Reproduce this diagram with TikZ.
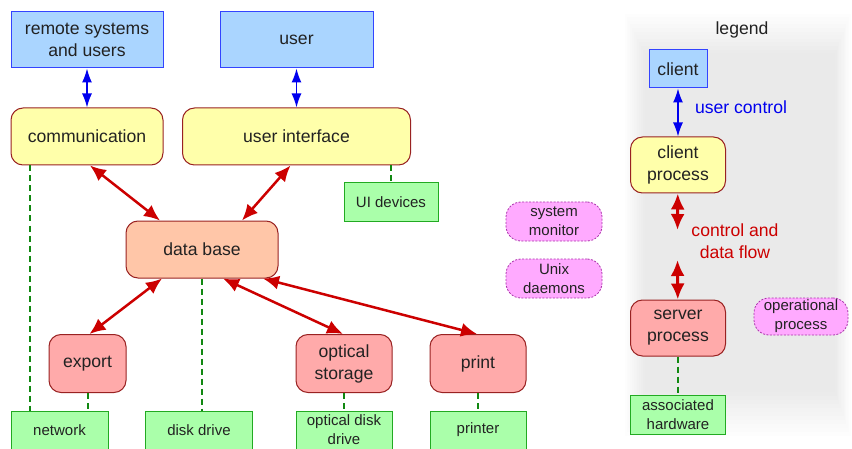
\documentclass[tikz,border=0pt]{standalone}
\usepackage{fontspec}
\setmainfont{Liberation Sans}
\usetikzlibrary{positioning,shapes,arrows.meta}
\definecolor{clientfill}{HTML}{AAD5FF}
\definecolor{clientline}{HTML}{3344FF}
\definecolor{procline}{HTML}{992222}
\definecolor{uifill}{HTML}{FFFFAA}
\definecolor{dbfill}{HTML}{FFC6A8}
\definecolor{serverfill}{HTML}{FFAAAA}
\definecolor{hwfill}{HTML}{AAFFAA}
\definecolor{hwline}{HTML}{22AA22}
\definecolor{daemonfill}{HTML}{FFAAFF}
\definecolor{daemonline}{HTML}{AA33AA}
\definecolor{ctrlblue}{HTML}{0000EE}
\definecolor{flowred}{HTML}{CC0000}
\definecolor{linkgreen}{HTML}{118811}
\definecolor{textgray}{HTML}{222222}

\begin{document}
\begin{tikzpicture}[
  x=1pt,y=1pt,
  font=\fontsize{17.6}{22}\selectfont,
  text=textgray,
  clientbox/.style={draw=clientline,fill=clientfill,line width=1pt,align=center,inner sep=0pt},
  procbox/.style={draw=procline,line width=1pt,rounded corners=12pt,align=center,inner sep=0pt},
  hwbox/.style={draw=hwline,fill=hwfill,line width=1pt,align=center,inner sep=0pt,
    font=\fontsize{15}{19}\selectfont},
  daemonbox/.style={draw=daemonline,fill=daemonfill,line width=0.8pt,dash pattern=on 2pt off 1.5pt,
    rounded corners=15pt,align=center,inner sep=0pt,font=\fontsize{15}{19}\selectfont},
  userlink/.style={draw=ctrlblue,line width=1.4pt,{Latex[length=14pt,width=10pt]}-{Latex[length=14pt,width=10pt]}},
  datalink/.style={draw=flowred,line width=2.5pt,{Latex[length=16pt,width=14pt]}-{Latex[length=16pt,width=14pt]}},
  bigdatalink/.style={draw=flowred,line width=3pt,{Latex[length=16pt,width=14pt]}-{Latex[length=16pt,width=14pt]}},
  hwlink/.style={draw=linkgreen,line width=2pt,dash pattern=on 6pt off 4pt}
]
\useasboundingbox (0,0) rectangle (852,448);
% legend background
\foreach \k [evaluate=\k as \shade using 0.7*\k] in {1,...,12}
  \fill[black!\shade] (623+1.8*\k,8+4*\k) rectangle (852-1.4*\k,438-3.6*\k);

% clients
\node[clientbox,minimum width=152pt,minimum height=56pt] (R) at (87,408) {remote systems\\and users};
\node[clientbox,minimum width=153pt,minimum height=56pt] (U) at (296.5,408) {user};

% client processes
\node[procbox,fill=uifill,minimum width=152pt,minimum height=57pt,below=39pt of R] (comm) {communication};
\node[procbox,fill=uifill,minimum width=228pt,minimum height=57pt,below=39pt of U] (ui) {user interface};
\node[hwbox,minimum width=94pt,minimum height=38pt] (uidev) at (391,246) {UI devices};

% server processes
\node[procbox,fill=dbfill,minimum width=152pt,minimum height=57pt] (db) at (202,198.5) {data base};
\node[procbox,fill=serverfill,minimum width=77pt,minimum height=58pt] (export) at (87.5,84.5) {export};
\node[procbox,fill=serverfill,minimum width=96pt,minimum height=58pt] (optical) at (344,84.5) {optical\\storage};
\node[procbox,fill=serverfill,minimum width=96pt,minimum height=58pt] (print) at (478,84.5) {print};

% operational processes
\node[daemonbox,minimum width=96pt,minimum height=39pt] (sysmon) at (554,226.5) {system\\monitor};
\node[daemonbox,minimum width=96pt,minimum height=39pt] (unix) at (554,169.5) {Unix\\daemons};

% hardware
\node[hwbox,minimum width=97pt,minimum height=38pt] (network) at (59.5,18) {network};
\node[hwbox,minimum width=107pt,minimum height=38pt] (disk) at (199,18) {disk drive};
\node[hwbox,minimum width=96pt,minimum height=38pt] (odisk) at (344,18) {optical disk\\drive};
\node[hwbox,minimum width=96pt,minimum height=38pt] (printer) at (478,18) {printer};

% legend
\node (legend) at (742,418) {legend};
\node[clientbox,minimum width=58pt,minimum height=38pt] (client) at (678,379) {client};
\node[procbox,fill=uifill,minimum width=95pt,minimum height=56pt,below=48pt of client] (cproc) {client\\process};
\node[procbox,fill=serverfill,minimum width=95pt,minimum height=56pt,below=106pt of cproc] (sproc) {server\\process};
\node[hwbox,minimum width=95pt,minimum height=39pt,below=38pt of sproc] (hw) {associated\\hardware};
\node[daemonbox,minimum width=94pt,minimum height=37pt] (opproc) at (801,131.5) {operational\\process};
\node[text=ctrlblue] (ctrllabel) at (741,341) {user control};
\node[text=flowred,align=center] (flowlabel) at (735,207) {control and\\data flow};
\coordinate (flowtop) at (677.5,218);
\coordinate (flowbot) at (677.5,188);

% user control
\path (R) edge[userlink] (comm)
(U) edge[userlink] (ui)
(client) edge[userlink] (cproc);

% control and data flow
\path ([xshift=3pt]comm.south) edge[datalink] ([xshift=-42pt]db.north)
([xshift=-6pt]ui.south) edge[datalink] ([xshift=40pt]db.north)
([xshift=-40pt]db.south) edge[datalink] ([xshift=2pt]export.north)
([xshift=21pt]db.south) edge[datalink] ([xshift=-1pt]optical.north)
([xshift=61pt]db.south) edge[datalink] ([xshift=-1pt]print.north)
(cproc) edge[bigdatalink] (flowtop)
(flowbot) edge[bigdatalink] (sproc);

% hardware links
\draw[hwlink] ([xshift=-57pt]comm.south) -- ([xshift=-57pt]comm.south |- network.north);
\draw[hwlink] (uidev.north |- ui.south) -- (uidev.north);
\draw[hwlink] (db.south) -- (db.south |- disk.north);
\draw[hwlink] (export.south) -- (export.south |- network.north);
\draw[hwlink] (optical.south) -- (odisk.north);
\draw[hwlink] (print.south) -- (printer.north);
\draw[hwlink] (sproc.south) -- (hw.north);
\end{tikzpicture}
\end{document}
